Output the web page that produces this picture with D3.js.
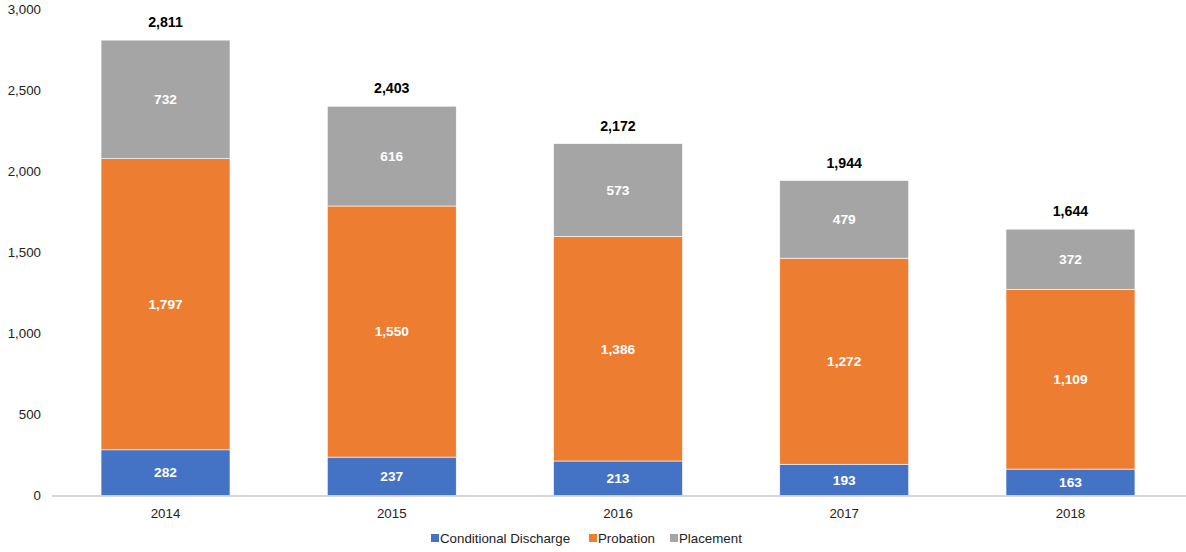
<!DOCTYPE html>
<html lang="en">
<head>
<meta charset="utf-8">
<script src="https://cdn.jsdelivr.net/npm/d3@7"></script>
<style>
  body { margin: 0; background: #fff; }
  text { font-family: "Liberation Sans", Arial, sans-serif; }
</style>
</head>
<body>
<script>
var years = ["2014", "2015", "2016", "2017", "2018"];
var conditionalDischarge = [282, 237, 213, 193, 163];
var probation = [1797, 1550, 1386, 1272, 1109];
var placement = [732, 616, 573, 479, 372];
var seriesNames = ["Conditional Discharge", "Probation", "Placement"];
var seriesColors = ["#4472C4", "#ED7D31", "#A5A5A5"];
var yTicks = [0, 500, 1000, 1500, 2000, 2500, 3000];

var width = 1186, height = 552;

var svg = d3.select("body").append("svg")
  .attr("width", width)
  .attr("height", height);

var x = d3.scaleBand().domain(years).range([52.4, 1183.6]).paddingInner(0.43).paddingOuter(0.215);
var y = d3.scaleLinear().domain([0, 3000]).range([495.5, 9.5]);

var rows = years.map(function(yr, i) {
  return { year: yr, cd: conditionalDischarge[i], pr: probation[i], pl: placement[i] };
});
var stack = d3.stack().keys(["cd", "pr", "pl"])(rows);

// y tick labels
svg.append("g").selectAll("text")
  .data(yTicks).enter().append("text")
  .attr("x", 41)
  .attr("y", function(d) { return y(d); })
  .attr("dy", "0.35em")
  .attr("text-anchor", "end")
  .attr("font-size", 13.3)
  .attr("fill", "#222")
  .text(d3.format(","));

// bars
var layers = svg.append("g").selectAll("g")
  .data(stack).enter().append("g")
  .attr("fill", function(d, i) { return seriesColors[i]; });

layers.selectAll("rect")
  .data(function(d) { return d; }).enter().append("rect")
  .attr("x", function(d) { return x(d.data.year); })
  .attr("width", x.bandwidth())
  .attr("y", function(d) { return y(d[1]); })
  .attr("height", function(d) { return y(d[0]) - y(d[1]); })
  .attr("stroke", "#fff")
  .attr("stroke-width", 0.6);

// segment labels
layers.selectAll("text")
  .data(function(d) { return d; }).enter().append("text")
  .attr("x", function(d) { return x(d.data.year) + x.bandwidth() / 2; })
  .attr("y", function(d) { return (y(d[0]) + y(d[1])) / 2; })
  .attr("dy", "0.35em")
  .attr("text-anchor", "middle")
  .attr("font-size", 13.7)
  .attr("font-weight", "bold")
  .attr("fill", "#fff")
  .text(function(d) { return d3.format(",")(d[1] - d[0]); });

// totals
svg.append("g").selectAll("text")
  .data(rows).enter().append("text")
  .attr("x", function(d) { return x(d.year) + x.bandwidth() / 2; })
  .attr("y", function(d) { return y(d.cd + d.pr + d.pl) - 18; })
  .attr("dy", "0.35em")
  .attr("text-anchor", "middle")
  .attr("font-size", 14.2)
  .attr("font-weight", "bold")
  .attr("fill", "#000")
  .text(function(d) { return d3.format(",")(d.cd + d.pr + d.pl); });

// x axis line
svg.append("line")
  .attr("x1", 52).attr("x2", width)
  .attr("y1", y(0) + 0.5).attr("y2", y(0) + 0.5)
  .attr("stroke", "#C8C8C8")
  .attr("stroke-width", 1.5);

// x labels
svg.append("g").selectAll("text")
  .data(years).enter().append("text")
  .attr("x", function(d) { return x(d) + x.bandwidth() / 2; })
  .attr("y", 513)
  .attr("dy", "0.35em")
  .attr("text-anchor", "middle")
  .attr("font-size", 13.3)
  .attr("fill", "#222")
  .text(function(d) { return d; });

// legend
var legendX = [431, 589, 670];
var legend = svg.append("g").selectAll("g")
  .data(seriesNames).enter().append("g")
  .attr("transform", function(d, i) { return "translate(" + legendX[i] + ",538)"; });
legend.append("rect")
  .attr("x", 0).attr("y", -4)
  .attr("width", 8).attr("height", 8)
  .attr("fill", function(d, i) { return seriesColors[i]; });
legend.append("text")
  .attr("x", 9)
  .attr("dy", "0.35em")
  .attr("font-size", 13.3)
  .attr("fill", "#222")
  .text(function(d) { return d; });
</script>
</body>
</html>
